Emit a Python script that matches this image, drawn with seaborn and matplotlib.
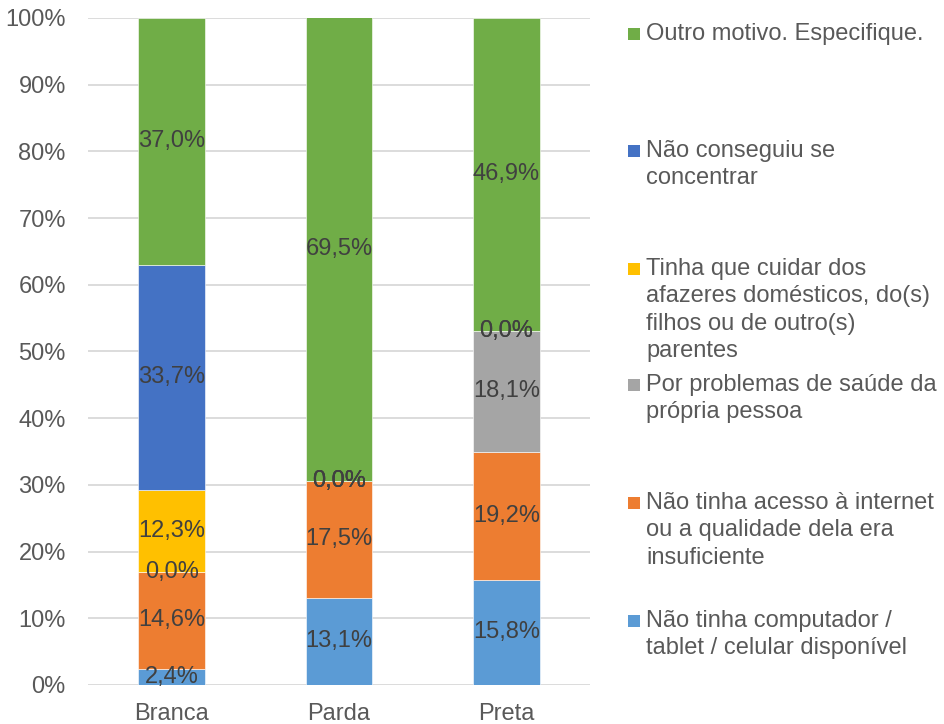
import pandas as pd
import seaborn as sns
import matplotlib.pyplot as plt
from matplotlib.patches import Rectangle

# categorias (cor/raça) e motivos, do topo da pilha para a base
cores = ['Branca', 'Parda', 'Preta']
motivos = [
    'Outro motivo. Especifique.',
    'Não conseguiu se\nconcentrar',
    'Tinha que cuidar dos\nafazeres domésticos, do(s)\nfilhos ou de outro(s)\nparentes',
    'Por problemas de saúde da\nprópria pessoa',
    'Não tinha acesso à internet\nou a qualidade dela era\ninsuficiente',
    'Não tinha computador /\ntablet / celular disponível',
]
outro = [37.0, 69.5, 46.9]
concentrar = [33.7, 0.0, 0.0]
cuidar = [12.3, 0.0, 0.0]
saude = [0.0, 0.0, 18.1]
internet = [14.6, 17.5, 19.2]
computador = [2.4, 13.1, 15.8]
cores_motivos = ['#70AD47', '#4472C4', '#FFC000', '#A5A5A5', '#ED7D31', '#5B9BD5']

series = [outro, concentrar, cuidar, saude, internet, computador]
rows = []
for motivo, vals in zip(motivos, series):
    for cor, v in zip(cores, vals):
        rows.append({'cor': cor, 'motivo': motivo, 'pct': v})
df = pd.DataFrame(rows)

sns.set_style('white')
plt.rcParams['font.family'] = ['Liberation Sans', 'DejaVu Sans']

fig = plt.figure(figsize=(9.45, 7.24), dpi=100)
ax = fig.add_axes([0.0931, 0.0539, 0.5312, 0.9213])

# a ultima categoria do hue fica na base da pilha
sns.histplot(data=df, x='cor', weights='pct', hue='motivo', hue_order=motivos,
             multiple='stack', discrete=True, shrink=0.4,
             palette=dict(zip(motivos, cores_motivos)), alpha=1,
             edgecolor='white', linewidth=0.4, legend=False, ax=ax)

# rotulos de dados no centro de cada segmento
for cont in ax.containers:
    labels = [f'{v:.1f}%'.replace('.', ',') for v in cont.datavalues]
    ax.bar_label(cont, labels=labels, label_type='center', fontsize=17, color='#404040')

ax.set_ylim(0, 100)
ax.set_xlim(-0.5, 2.5)
ax.set_yticks(range(0, 101, 10))
ax.set_yticklabels([f'{t}%' for t in range(0, 101, 10)])
ax.set_xlabel('')
ax.set_ylabel('')
ax.yaxis.grid(True, color='#D9D9D9', linewidth=1.3)
ax.set_axisbelow(True)
sns.despine(ax=ax, left=True, bottom=True)
ax.tick_params(axis='y', length=0, pad=16, labelsize=17, labelcolor='#595959')
ax.tick_params(axis='x', length=0, pad=13, labelsize=17, labelcolor='#595959')

# legenda montada a mao, alinhada pela primeira linha de cada item
W, H = 945, 724
primeira_linha = [34, 151, 269, 385, 503, 621]
passo = 27.3
for motivo, cor, y0 in zip(motivos, cores_motivos, primeira_linha):
    fig.patches.append(Rectangle(((628) / W, 1 - (y0 + 6) / H), 12 / W, 12 / H,
                                 transform=fig.transFigure, facecolor=cor,
                                 edgecolor='none', figure=fig))
    for i, linha in enumerate(motivo.split('\n')):
        fig.text(646 / W, 1 - (y0 + i * passo) / H, linha, fontsize=17,
                 color='#595959', va='center', ha='left')

fig.savefig('out.png', dpi=100)
